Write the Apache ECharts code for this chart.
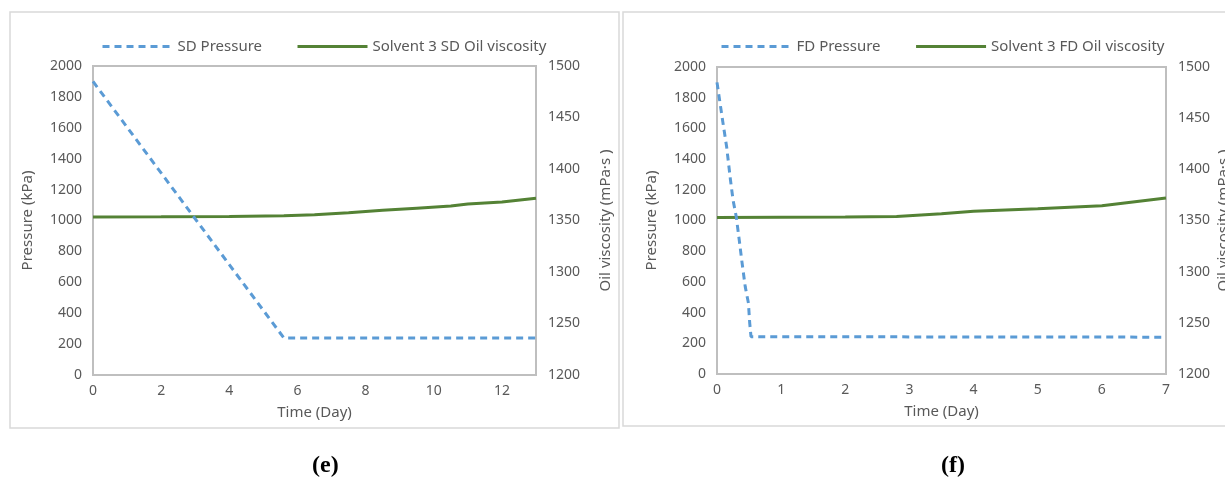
<!DOCTYPE html>
<html>
<head>
<meta charset="utf-8">
<script src="https://cdn.jsdelivr.net/npm/echarts@6/dist/echarts.min.js"></script>
<style>
  html, body { margin: 0; padding: 0; background: #fff; }
  #chart { width: 1225px; height: 482px; }
</style>
</head>
<body>
<div id="chart"></div>
<script>
// Panel (e): slow depressurisation (SD), time in days
const sdPressure = [[0, 1900], [5.6, 240], [13, 240]];
const sdViscosity = [[0, 1353.5], [2, 1353.6], [4, 1354], [5.6, 1354.6], [6.5, 1355.5], [7.5, 1357.5],
  [8.5, 1360], [9.5, 1362], [10.5, 1364], [11, 1366], [12, 1368], [13, 1371.5]];

// Panel (f): fast depressurisation (FD), time in days
const fdPressure = [[0, 1900], [0.09, 1644], [0.15, 1481], [0.21, 1264], [0.25, 1134], [0.3, 1025],
  [0.35, 862], [0.385, 743], [0.44, 569], [0.49, 462], [0.51, 332], [0.53, 243], [7, 240]];
const fdViscosity = [[0, 1353], [2, 1353.3], [2.8, 1354], [3.5, 1356.5], [4, 1359], [5, 1361.5],
  [6, 1364.5], [7, 1372]];

const panelNames = {
  e: { pressure: 'SD Pressure', viscosity: 'Solvent 3 SD Oil viscosity', caption: '(e)' },
  f: { pressure: 'FD Pressure', viscosity: 'Solvent 3 FD Oil viscosity', caption: '(f)' }
};

const xTitle = 'Time (Day)';
const yLeftTitle = 'Pressure (kPa)';
const yRightTitle = 'Oil viscosity (mPa·s )';

const BLUE = '#5b9bd5';
const GREEN = '#548235';
const AXIS = '#bfbfbf';
const TEXT = '#595959';
const FONT = 'Noto Sans';

const chart = echarts.init(document.getElementById('chart'), null, { renderer: 'canvas' });

const grids = [
  { left: 93, top: 66, width: 443, height: 309 },
  { left: 717, top: 67, width: 449, height: 307 }
];

// plain numbers, no thousands separator
const plain = v => String(v);

function xAxis(gridIndex, max, interval) {
  return {
    type: 'value', gridIndex, min: 0, max, interval,
    name: xTitle, nameLocation: 'middle', nameGap: 30,
    nameTextStyle: { color: TEXT, fontSize: 15, fontFamily: FONT },
    axisLine: { show: true, lineStyle: { color: AXIS, width: 2 } },
    axisTick: { show: false },
    splitLine: { show: false },
    axisLabel: { color: TEXT, fontSize: 14, fontFamily: FONT, margin: 9, formatter: plain,
      showMaxLabel: max % interval === 0 }
  };
}
function yLeft(gridIndex) {
  return {
    type: 'value', gridIndex, min: 0, max: 2000, interval: 200, position: 'left',
    name: yLeftTitle, nameLocation: 'middle', nameGap: 58, nameRotate: 90,
    nameTextStyle: { color: TEXT, fontSize: 15, fontFamily: FONT },
    axisLine: { show: true, lineStyle: { color: AXIS, width: 2 } },
    axisTick: { show: false },
    splitLine: { show: false },
    axisLabel: { color: TEXT, fontSize: 14, fontFamily: FONT, margin: 11, formatter: plain }
  };
}
function yRight(gridIndex, nameGap) {
  return {
    type: 'value', gridIndex, min: 1200, max: 1500, interval: 50, position: 'right',
    name: yRightTitle, nameLocation: 'middle', nameGap, nameRotate: 90,
    nameTextStyle: { color: TEXT, fontSize: 15, fontFamily: FONT },
    axisLine: { show: true, lineStyle: { color: AXIS, width: 2 } },
    axisTick: { show: false },
    splitLine: { show: false },
    axisLabel: { color: TEXT, fontSize: 14, fontFamily: FONT, margin: 12, formatter: plain }
  };
}

function pressureSeries(name, data, idx) {
  return {
    name, type: 'line', xAxisIndex: idx, yAxisIndex: idx * 2, data,
    symbol: 'none', smooth: false,
    lineStyle: { color: BLUE, width: 3, type: [7, 5] },
    itemStyle: { color: BLUE }, z: 3
  };
}
function viscositySeries(name, data, idx) {
  return {
    name, type: 'line', xAxisIndex: idx, yAxisIndex: idx * 2 + 1, data,
    symbol: 'none', smooth: false,
    lineStyle: { color: GREEN, width: 3 },
    itemStyle: { color: GREEN }, z: 2
  };
}

function legend(left, names) {
  return {
    left, top: 34, itemWidth: 70, itemHeight: 14, itemGap: 34,
    data: names,
    itemStyle: { opacity: 0 },
    lineStyle: { width: 3 },
    textStyle: { color: TEXT, fontSize: 15, fontFamily: FONT }
  };
}

chart.setOption({
  animation: false,
  backgroundColor: '#ffffff',
  grid: grids.map(g => Object.assign({
    show: true, borderColor: AXIS, borderWidth: 2, backgroundColor: 'transparent',
    containLabel: false, outerBoundsMode: 'none'
  }, g)),
  xAxis: [xAxis(0, 13, 2), xAxis(1, 7, 1)],
  yAxis: [yLeft(0), yRight(0, 62), yLeft(1), yRight(1, 50)],
  legend: [
    legend(96, [panelNames.e.pressure, panelNames.e.viscosity]),
    legend(715, [panelNames.f.pressure, panelNames.f.viscosity])
  ],
  series: [
    pressureSeries(panelNames.e.pressure, sdPressure, 0),
    viscositySeries(panelNames.e.viscosity, sdViscosity, 0),
    pressureSeries(panelNames.f.pressure, fdPressure, 1),
    viscositySeries(panelNames.f.viscosity, fdViscosity, 1)
  ],
  graphic: [
    { type: 'rect', shape: { x: 10, y: 12, width: 609, height: 416 },
      style: { fill: 'none', stroke: '#d9d9d9', lineWidth: 1.5 }, z: -1 },
    { type: 'rect', shape: { x: 623, y: 12, width: 620, height: 414 },
      style: { fill: 'none', stroke: '#d9d9d9', lineWidth: 1.5 }, z: -1 },
    { type: 'text', left: 312, top: 454,
      style: { text: panelNames.e.caption, font: 'bold 24px "Liberation Serif"', fill: '#000' } },
    { type: 'text', left: 941, top: 454,
      style: { text: panelNames.f.caption, font: 'bold 24px "Liberation Serif"', fill: '#000' } }
  ]
});
</script>
</body>
</html>
